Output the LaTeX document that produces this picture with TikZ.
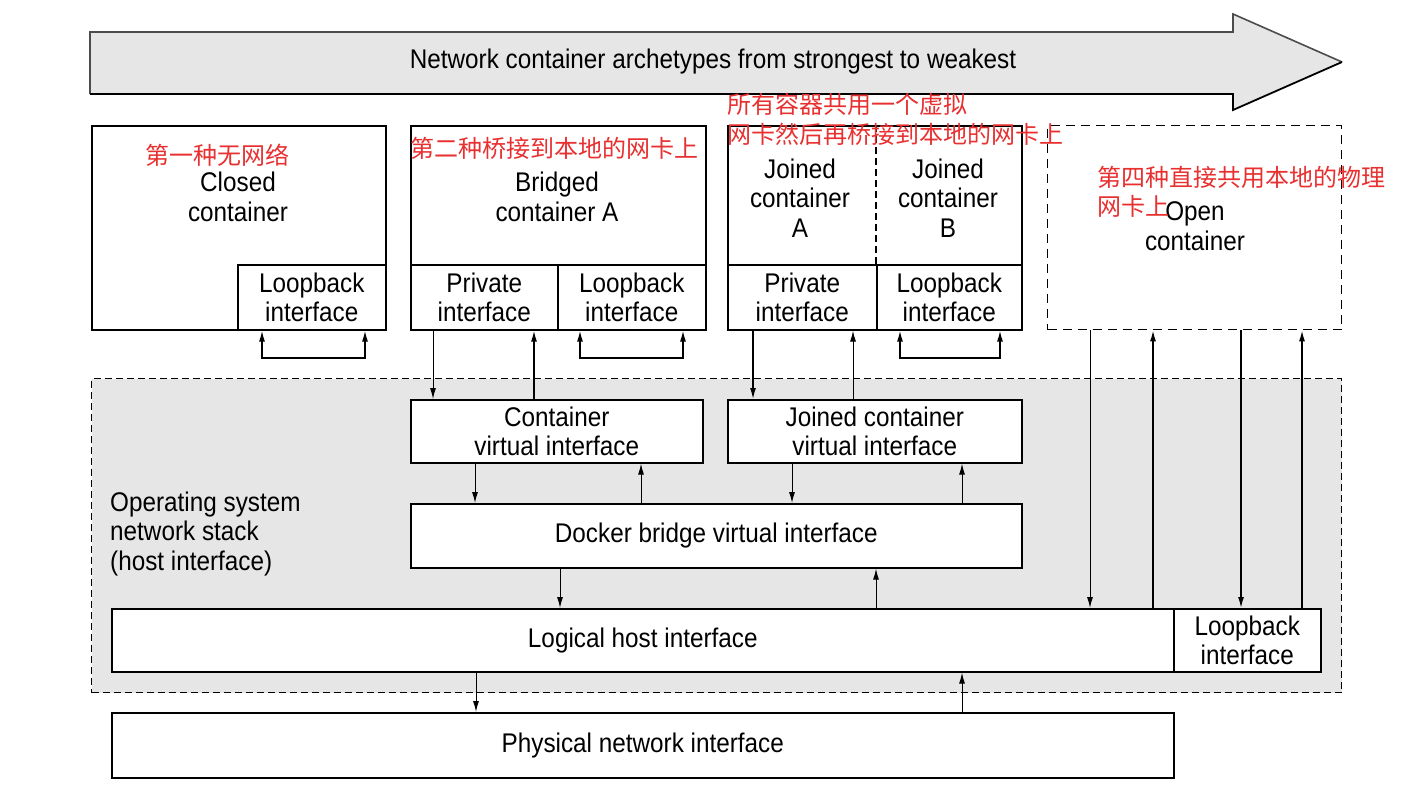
\documentclass[tikz,border=0pt]{standalone}
\usepackage{fontspec}
\setmainfont[FakeStretch=0.9]{Liberation Sans}
\newfontfamily\cjk{Noto Sans CJK SC}
\usetikzlibrary{arrows.meta}
\definecolor{bggray}{RGB}{230,230,230}
\definecolor{redtxt}{RGB}{232,48,48}
\tikzset{
  box/.style={draw=black,line width=1.6pt,fill=white,inner sep=0pt,anchor=north west,align=center,font=\fontsize{27}{29.5}\selectfont},
  lbl/.style={inner sep=0pt,align=center,font=\fontsize{27}{29.5}\selectfont},
  red/.style={inner sep=0pt,anchor=west,text=redtxt,font=\cjk\fontsize{24}{30}\selectfont},
  arr/.style={line width=1pt,-{Latex[length=11pt,width=6pt]}},
  loop/.style={line width=1.4pt,{Latex[length=11pt,width=6pt]}-{Latex[length=11pt,width=6pt]}},
}
\begin{document}
\begin{tikzpicture}[x=1pt,y=-1pt]
\useasboundingbox (0,0) rectangle (1405,788);
% big arrow
\fill[bggray] (90,32) -- (1233,32) -- (1233,14) -- (1342,62) -- (1233,110) -- (1233,94) -- (90,94) -- cycle;
\draw[line width=1.6pt,gray!60!black] (90,94) -- (90,32) -- (1233,32) -- (1233,14) -- (1342,62);
\draw[line width=1.8pt,black] (90,94) -- (1233,94) -- (1233,110) -- (1342,62);
\node[lbl] (title) at (713,62) {Network container archetypes from strongest to weakest};

% OS region
\node[draw,dashed,dash pattern=on 7pt off 4pt,line width=1pt,fill=bggray,inner sep=0pt,anchor=north west,minimum width=1250,minimum height=314] (os) at (91,378) {};
\node[lbl,align=left,anchor=west] (ostxt) at (110,534) {Operating system\\network stack\\(host interface)};

% closed container
\node[box,minimum width=294,minimum height=204] (closed) at (91,125) {};
\node[box,minimum width=148,minimum height=65] (lbC) at (237,264) {Loopback\\interface};
\node[lbl] (closedtxt) at (238,197) {Closed\\container};

% bridged container
\node[box,minimum width=295,minimum height=204] (bridged) at (410,125) {};
\node[box,minimum width=147,minimum height=65] (privB) at (410,264) {Private\\interface};
\node[box,minimum width=148,minimum height=65] (lbB) at (557,264) {Loopback\\interface};
\node[lbl] (bridgedtxt) at (557,197) {Bridged\\container A};

% joined containers
\node[box,minimum width=294,minimum height=204] (joined) at (727,125) {};
\draw[dashed,dash pattern=on 7pt off 4pt,line width=1.2pt] (joined.north -| 876,0) -- (876,264);
\node[box,minimum width=149,minimum height=65] (privJ) at (727,264) {Private\\interface};
\node[box,minimum width=145,minimum height=65] (lbJ) at (876,264) {Loopback\\interface};
\node[lbl] (jA) at (800,198) {Joined\\container\\A};
\node[lbl] (jB) at (948,198) {Joined\\container\\B};

% open container
\node[draw,dashed,dash pattern=on 9pt off 6pt,line width=1.4pt,fill=white,inner sep=0pt,anchor=north west,minimum width=294,minimum height=204] (open) at (1047,125) {};
\node[lbl] (opentxt) at (1195,226) {Open\\container};

% red annotations (on top)
\node[red] (r1) at (145,155) {第一种无网络};
\node[red] (r2) at (410,148) {第二种桥接到本地的网卡上};
\node[red] (r3a) at (727,104) {所有容器共用一个虚拟};
\node[red] (r3b) at (727,134) {网卡然后再桥接到本地的网卡上};
\node[red] (r4a) at (1097,177) {第四种直接共用本地的物理};
\node[red] (r4b) at (1097,206) {网卡上};

% inner boxes
\node[box,minimum width=292,minimum height=63] (cvi) at (410,399) {Container\\virtual interface};
\node[box,minimum width=294,minimum height=63] (jvi) at (727,399) {Joined container\\virtual interface};
\node[box,minimum width=611,minimum height=64] (dbr) at (410,503) {Docker bridge virtual interface};
\node[box,minimum width=1062,minimum height=63] (lhi) at (111,608) {Logical host interface};
\node[box,minimum width=147,minimum height=63] (hlb) at (1173,608) {Loopback\\interface};
\node[box,minimum width=1062,minimum height=65] (phy) at (111,712) {Physical network interface};

% loops
\draw[loop] (lbC.south -| 262,0) -- (262,358) -- (365,358) -- (lbC.south -| 365,0);
\draw[loop] (lbB.south -| 580,0) -- (580,358) -- (683,358) -- (lbB.south -| 683,0);
\draw[loop] (lbJ.south -| 900,0) -- (900,358) -- (1000,358) -- (lbJ.south -| 1000,0);

% arrows
\draw[arr] (privB.south -| 433,0) -- (cvi.north -| 433,0);
\draw[arr,line width=1.4pt] (cvi.north -| 534,0) -- (privB.south -| 534,0);
\draw[arr,line width=1.4pt] (privJ.south -| 753,0) -- (jvi.north -| 753,0);
\draw[arr] (jvi.north -| 853,0) -- (privJ.south -| 853,0);
\draw[arr] (cvi.south -| 475,0) -- (dbr.north -| 475,0);
\draw[arr] (dbr.north -| 641,0) -- (cvi.south -| 641,0);
\draw[arr] (jvi.south -| 792,0) -- (dbr.north -| 792,0);
\draw[arr] (dbr.north -| 962,0) -- (jvi.south -| 962,0);
\draw[arr] (dbr.south -| 560,0) -- (lhi.north -| 560,0);
\draw[arr] (lhi.north -| 876,0) -- (dbr.south -| 876,0);
\draw[arr] (open.south -| 1090,0) -- (lhi.north -| 1090,0);
\draw[arr,line width=1.4pt] (lhi.north -| 1153,0) -- (open.south -| 1153,0);
\draw[arr,line width=1.4pt] (open.south -| 1241,0) -- (hlb.north -| 1241,0);
\draw[arr,line width=1.4pt] (hlb.north -| 1302,0) -- (open.south -| 1302,0);
\draw[arr] (lhi.south -| 476,0) -- (phy.north -| 476,0);
\draw[arr] (phy.north -| 962,0) -- (lhi.south -| 962,0);
\end{tikzpicture}
\end{document}
